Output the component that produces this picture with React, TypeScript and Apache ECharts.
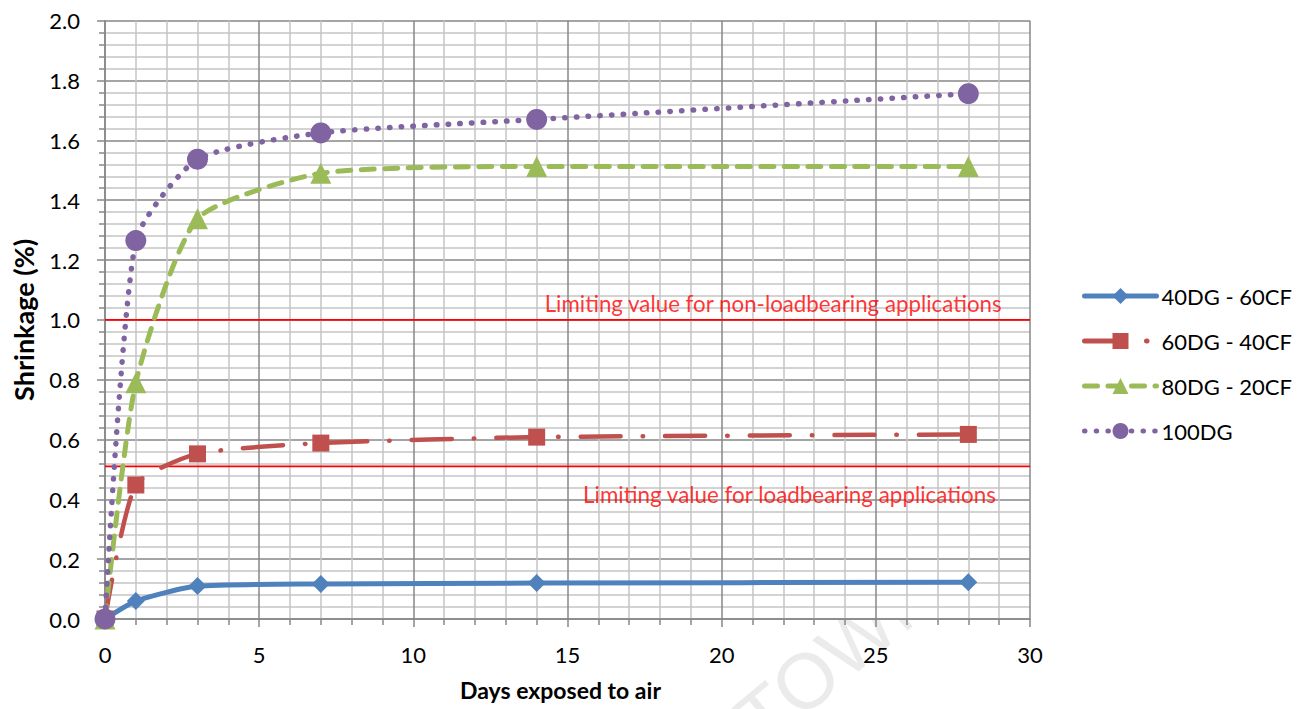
import React, { useEffect, useRef } from "react";
import * as echarts from "echarts";

const days = [0, 1, 3, 7, 14, 28];
const s40 = [0, 0.06, 0.11, 0.117, 0.12, 0.123];
const s60 = [0, 0.448, 0.552, 0.588, 0.608, 0.617];
const s80 = [0, 0.79, 1.338, 1.49, 1.513, 1.513];
const s100 = [0, 1.265, 1.537, 1.625, 1.67, 1.756];
const seriesNames = ["40DG - 60CF", "60DG - 40CF", "80DG - 20CF", "100DG"];
const limitNonLoad = 1.0;
const limitLoad = 0.51;
const limitX = [0, 30];
const labelNonLoad = "Limiting value for non-loadbearing applications";
const labelLoad = "Limiting value for loadbearing applications";
const labelNonLoadX = 21.67;
const labelLoadX = 22.2;

const FONT = "Lato, 'Open Sans', sans-serif";
const FS = 22;

export default function App() {
  const ref = useRef<HTMLDivElement>(null);
  useEffect(() => {
    if (!ref.current) return;
    const chart = echarts.init(ref.current, null, { renderer: "svg" });
    const pts = (ys: number[]) => days.map((d, i) => [d, ys[i]]);
    const common = { type: "line", smooth: 0.2, z: 5 };
    const limitLine = (val: number) => ({
      type: "line",
      silent: true,
      symbol: "none",
      z: 4,
      lineStyle: { color: "#FF0000", width: 1.8 },
      data: limitX.map((x) => [x, val]),
    });
    const limitLabel = (val: number, lx: number, text: string, pos: string, dist: number, fs: number) => ({
      type: "scatter",
      silent: true,
      symbolSize: 1,
      itemStyle: { color: "rgba(0,0,0,0)" },
      z: 6,
      data: [[lx, val]],
      label: {
        show: true,
        position: pos,
        distance: dist,
        formatter: text,
        color: "#FF0000",
        fontSize: fs,
        fontFamily: FONT,
      },
    });
    const axisCommon = {
      z: 2,
      axisLine: { show: true, lineStyle: { color: "#878787", width: 1.5 } },
      axisTick: { show: true, length: 8, lineStyle: { color: "#878787", width: 1.5 } },
      minorTick: { show: true, splitNumber: 5, length: 6, lineStyle: { color: "#878787", width: 1.5 } },
      splitLine: { show: true, lineStyle: { color: "#878787", width: 1.5 } },
      minorSplitLine: { show: true, lineStyle: { color: "#c4c4c4", width: 1.5 } },
    };
    chart.setOption({
      animation: false,
      backgroundColor: "#ffffff",
      textStyle: { fontFamily: FONT },
      grid: {
        left: 105,
        right: 280,
        top: 20.7,
        bottom: 90,
        containLabel: false,
        show: true,
        backgroundColor: "#ffffff",
        borderWidth: 0,
        z: 0,
      },
      legend: {
        orient: "vertical",
        left: 1082,
        top: 285,
        padding: 0,
        itemWidth: 72,
        itemHeight: 20,
        itemGap: 23,
        data: seriesNames,
        lineStyle: { width: 5, cap: "round" },
        textStyle: { fontSize: FS, color: "#000", fontFamily: FONT },
      },
      xAxis: {
        ...axisCommon,
        type: "value",
        min: 0,
        max: 30,
        interval: 5,
        name: "Days exposed to air",
        nameLocation: "middle",
        nameGap: 59,
        nameTextStyle: {
          fontSize: 23,
          fontWeight: "bold",
          color: "#000",
          fontFamily: FONT,
          padding: [0, 14, 0, 0],
        },
        axisLabel: { fontSize: FS, color: "#000", margin: 24, fontFamily: FONT },
      },
      yAxis: {
        ...axisCommon,
        type: "value",
        min: 0,
        max: 2,
        interval: 0.2,
        name: "Shrinkage (%)",
        nameLocation: "middle",
        nameGap: 68,
        nameTextStyle: { fontSize: 27, fontWeight: "bold", color: "#000", fontFamily: FONT },
        axisLabel: {
          fontSize: FS,
          color: "#000",
          margin: 25,
          fontFamily: FONT,
          formatter: (v: number) => v.toFixed(1),
        },
      },
      graphic: [
        {
          type: "text",
          x: 722,
          y: 700,
          rotation: (Math.PI * 40) / 180,
          z: -1,
          silent: true,
          style: {
            text: "TOWN",
            fontSize: 78,
            fontFamily: "'Liberation Sans', sans-serif",
            fill: "#ebebeb",
          },
        },
      ],
      series: [
        { ...limitLine(limitNonLoad) },
        { ...limitLine(limitLoad) },
        limitLabel(limitNonLoad, labelNonLoadX, labelNonLoad, "top", 5, 22.3),
        limitLabel(limitLoad, labelLoadX, labelLoad, "bottom", 17, 22.4),
        {
          ...common,
          name: seriesNames[0],
          data: pts(s40),
          symbol: "diamond",
          symbolSize: 18,
          itemStyle: { color: "#4F81BD" },
          lineStyle: { color: "#4F81BD", width: 5, cap: "round", join: "round" },
        },
        {
          ...common,
          name: seriesNames[1],
          data: pts(s60),
          symbol: "rect",
          symbolSize: 17,
          itemStyle: { color: "#C0504D" },
          lineStyle: { color: "#C0504D", width: 4.5, type: [40, 22, 0.5, 22], cap: "round" },
        },
        {
          ...common,
          name: seriesNames[2],
          data: pts(s80),
          symbol: "triangle",
          symbolSize: 21,
          itemStyle: { color: "#9BBB59" },
          lineStyle: { color: "#9BBB59", width: 5, type: [13, 10.5], cap: "round" },
        },
        {
          ...common,
          name: seriesNames[3],
          data: pts(s100),
          symbol: "circle",
          symbolSize: 21,
          itemStyle: { color: "#8064A2" },
          lineStyle: { color: "#8064A2", width: 5.5, type: [0.5, 11.2], cap: "round" },
        },
      ],
    });
    return () => chart.dispose();
  }, []);
  return (
    <div
      ref={ref}
      style={{ position: "absolute", left: 0, top: 0, width: 1310, height: 709, background: "#fff" }}
    />
  );
}
